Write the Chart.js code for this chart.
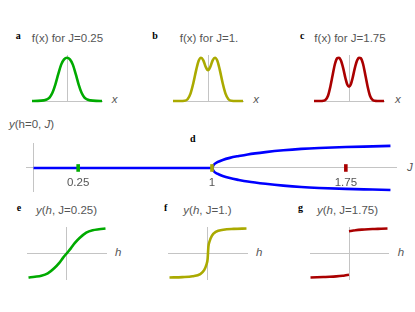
<!DOCTYPE html>
<html>
<head>
<meta charset="utf-8">
<script src="https://cdn.jsdelivr.net/npm/chart.js@4.4.1/dist/chart.umd.min.js"></script>
<style>
  body { margin: 0; background: #fff; }
  #fig { position: relative; width: 415px; height: 312px; overflow: hidden; background: #fff; }
  canvas { position: absolute; }
  .t { position: absolute; font: 11.5px "Liberation Sans", Arial, sans-serif; color: #555; line-height: 11.5px; white-space: nowrap; }
  .c { transform: translateX(-50%); }
  .k { position: absolute; font: bold 10px "Liberation Serif", "Times New Roman", serif; line-height: 10px; color: #000; }
  i { font-style: italic; }
</style>
</head>
<body>
<div id="fig">
  <div class="k" style="left:15.7px;top:30.9px">a</div>
  <div class="k" style="left:152.3px;top:30.9px">b</div>
  <div class="k" style="left:300px;top:30.9px">c</div>
  <div class="k" style="left:190px;top:133.9px">d</div>
  <div class="k" style="left:16.7px;top:203.3px">e</div>
  <div class="k" style="left:164px;top:203.3px">f</div>
  <div class="k" style="left:298px;top:203.3px">g</div>

  <div class="t c" style="left:67.5px;top:33.3px">f(x) for J=0.25</div>
  <div class="t c" style="left:209px;top:33.3px">f(x) for J=1.</div>
  <div class="t c" style="left:350px;top:33.3px">f(x) for J=1.75</div>
  <div class="t" style="left:111.7px;top:94.3px"><i>x</i></div>
  <div class="t" style="left:253.3px;top:94.3px"><i>x</i></div>
  <div class="t" style="left:395px;top:94.3px"><i>x</i></div>

  <div class="t c" style="left:31.5px;top:119.3px"><i>y</i>(h=0, <i>J</i>)</div>
  <div class="t" style="left:407px;top:162px"><i>J</i></div>

  <div class="t c" style="left:66.5px;top:204.5px"><i>y</i>(<i>h</i>, J=0.25)</div>
  <div class="t c" style="left:207.5px;top:204.5px"><i>y</i>(<i>h</i>, J=1.)</div>
  <div class="t c" style="left:347.5px;top:204.5px"><i>y</i>(<i>h</i>, J=1.75)</div>
  <div class="t" style="left:115px;top:247px"><i>h</i></div>
  <div class="t" style="left:256px;top:247px"><i>h</i></div>
  <div class="t" style="left:397.7px;top:247px"><i>h</i></div>
</div>
<script>
// f(x) curves, top row
const fxA = [-3, -2.5, -2, -1.75, -1.5, -1.25, -1, -0.75, -0.5, -0.25, 0, 0.25, 0.5, 0.75, 1, 1.25, 1.5, 1.75, 2, 2.5, 3];
const fyA = [0, 0.002, 0.015, 0.035, 0.08, 0.19, 0.38, 0.62, 0.84, 0.96, 1, 0.96, 0.84, 0.62, 0.38, 0.19, 0.08, 0.035, 0.015, 0.002, 0];
const fxB = [-3, -2.5, -2, -1.75, -1.5, -1.25, -1, -0.8, -0.6, -0.4, -0.2, 0, 0.2, 0.4, 0.6, 0.8, 1, 1.25, 1.5, 1.75, 2, 2.5, 3];
const fyB = [0, 0.001, 0.006, 0.04, 0.17, 0.42, 0.73, 0.93, 1, 0.94, 0.79, 0.71, 0.79, 0.94, 1, 0.93, 0.73, 0.42, 0.17, 0.04, 0.006, 0.001, 0];
const fxC = [-3, -2.5, -2.2, -2, -1.8, -1.6, -1.4, -1.2, -1, -0.85, -0.7, -0.5, -0.3, -0.15, 0, 0.15, 0.3, 0.5, 0.7, 0.85, 1, 1.2, 1.4, 1.6, 1.8, 2, 2.2, 2.5, 3];
const fyC = [0, 0.001, 0.006, 0.03, 0.12, 0.33, 0.6, 0.86, 0.99, 1, 0.94, 0.76, 0.52, 0.38, 0.33, 0.38, 0.52, 0.76, 0.94, 1, 0.99, 0.86, 0.6, 0.33, 0.12, 0.03, 0.006, 0.001, 0];

// y(h=0, J) bifurcation
const dFlatJ = [0, 1];
const dFlatY = [0, 0];
const dBranchJ = [1, 1.01, 1.03, 1.06, 1.1, 1.15, 1.2, 1.3, 1.4, 1.5, 1.6, 1.75, 1.9, 2];
const dUpperY = [0, 0.14, 0.25, 0.35, 0.44, 0.52, 0.59, 0.69, 0.77, 0.83, 0.87, 0.91, 0.94, 0.96];
const dLowerY = [0, -0.14, -0.25, -0.35, -0.44, -0.52, -0.59, -0.69, -0.77, -0.83, -0.87, -0.91, -0.94, -0.96];
const markJ = [0.25, 1, 1.75];
const markY = [0, 0, 0];
const dTicks = [0.25, 1, 1.75];
const dTickLabels = ['0.25', '1', '1.75'];

// y(h) curves, bottom row
const hE = [-3, -2.5, -2, -1.5, -1, -0.6, -0.3, 0, 0.3, 0.6, 1, 1.5, 2, 2.5, 3];
const yE = [-1, -0.97, -0.93, -0.83, -0.62, -0.4, -0.19, 0, 0.19, 0.4, 0.62, 0.83, 0.93, 0.97, 1];
const hF = [-3, -2, -1.2, -0.6, -0.3, -0.12, -0.03, 0, 0.03, 0.12, 0.3, 0.6, 1.2, 2, 3];
const yF = [-1, -0.985, -0.95, -0.86, -0.7, -0.47, -0.25, 0, 0.25, 0.47, 0.7, 0.86, 0.95, 0.985, 1];
const hGl = [-3, -2.5, -2, -1.5, -1, -0.5, -0.25, 0];
const yGl = [-1, -0.99, -0.98, -0.97, -0.955, -0.93, -0.91, -0.89];
const hGr = [0, 0.25, 0.5, 1, 1.5, 2, 2.5, 3];
const yGr = [0.89, 0.91, 0.93, 0.955, 0.97, 0.98, 0.99, 1];

const green = 'rgb(0,170,0)', olive = 'rgb(170,170,0)', red = 'rgb(170,0,0)', blue = 'rgb(0,0,255)';
const axisGray = '#c4c4c4';
const P = 6;

const pts = (xs, ys) => xs.map((v, i) => ({ x: v, y: ys[i] }));
const curve = (xs, ys, color, w) => ({
  data: pts(xs, ys), borderColor: color, borderWidth: w || 2.6, clip: false,
  cubicInterpolationMode: 'monotone', pointRadius: 0, order: 2
});

function panel(area, xr, yr, datasets, ticks) {
  const cv = document.createElement('canvas');
  const w = area[2] - area[0] + 2 * P, h = area[3] - area[1] + 2 * P;
  cv.width = w; cv.height = h;
  cv.style.left = (area[0] - P) + 'px';
  cv.style.top = (area[1] - P) + 'px';
  document.getElementById('fig').appendChild(cv);
  new Chart(cv, {
    type: 'line',
    data: { datasets },
    options: {
      responsive: false,
      animation: false,
      devicePixelRatio: 1,
      layout: { padding: P },
      plugins: { legend: { display: false }, tooltip: { enabled: false } },
      scales: {
        x: {
          type: 'linear', min: xr[0], max: xr[1], position: { y: 0 },
          grid: { display: false, drawTicks: false },
          border: { color: axisGray, width: 1 },
          ticks: ticks ? {
            color: '#555', padding: 8,
            font: { family: '"Liberation Sans", Arial, sans-serif', size: 11.5 },
            callback: v => dTickLabels[dTicks.indexOf(v)]
          } : { display: false },
          afterBuildTicks: s => { if (ticks) s.ticks = ticks.map(v => ({ value: v })); },
          afterFit: s => { s.height = 0; }
        },
        y: {
          type: 'linear', min: yr[0], max: yr[1], position: { x: 0 },
          grid: { display: false, drawTicks: false },
          border: { color: axisGray, width: 1 },
          ticks: { display: false },
          afterFit: s => { s.width = 0; }
        }
      }
    }
  });
}

// top row: area = [left, top, right, bottom] of the axes in px
panel([32, 55, 102, 101], [-3, 3], [0, 1.062], [curve(fxA, fyA, green)]);
panel([173, 55, 243, 101], [-3, 3], [0, 1.062], [curve(fxB, fyB, olive)]);
panel([314, 55, 384, 101], [-3, 3], [0, 1.062], [curve(fxC, fyC, red)]);

// middle
panel([25, 142, 398, 193], [-0.0389, 2.0333], [-1.02, 1.061], [
  {
    data: pts(markJ, markY), showLine: false, pointStyle: 'line', rotation: 90,
    pointRadius: 3.8, pointBorderWidth: 3.6, pointBorderColor: [green, olive, red],
    clip: false, order: 0
  },
  curve(dFlatJ, dFlatY, blue, 2.6),
  curve(dBranchJ, dUpperY, blue, 2.6),
  curve(dBranchJ, dLowerY, blue, 2.6)
], dTicks);

// bottom row
panel([27, 227, 106, 279], [-3.117, 3.04], [-1.061, 1.061], [curve(hE, yE, green)]);
panel([168, 227, 247, 279], [-3.117, 3.04], [-1.061, 1.061], [curve(hF, yF, olive)]);
panel([310, 227, 388, 279], [-3.04, 3.04], [-1.061, 1.061], [curve(hGl, yGl, red), curve(hGr, yGr, red)]);
</script>
</body>
</html>
